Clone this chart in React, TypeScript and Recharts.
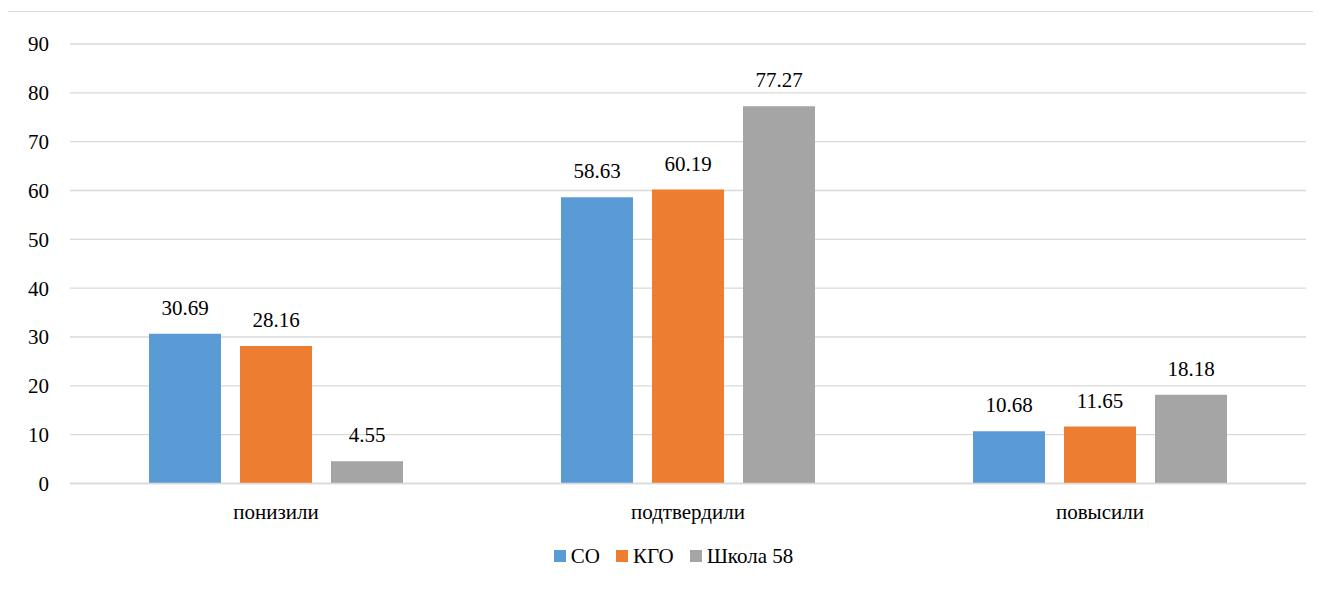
import React from "react";
import {
  BarChart,
  Bar,
  XAxis,
  YAxis,
  CartesianGrid,
  Legend,
  LabelList,
} from "recharts";

const categories = ["понизили", "подтвердили", "повысили"];
const soValues = [30.69, 58.63, 10.68];
const kgoValues = [28.16, 60.19, 11.65];
const schoolValues = [4.55, 77.27, 18.18];
const yTicks = [0, 10, 20, 30, 40, 50, 60, 70, 80, 90];

const series = [
  { key: "so", name: "СО", color: "#5B9BD5" },
  { key: "kgo", name: "КГО", color: "#ED7D31" },
  { key: "school", name: "Школа 58", color: "#A5A5A5" },
];

const chartData = categories.map((c, i) => ({
  category: c,
  so: soValues[i],
  kgo: kgoValues[i],
  school: schoolValues[i],
}));

const FONT = "'Times New Roman', Tinos, 'Liberation Serif', 'Noto Serif', 'DejaVu Serif', serif";
const FS = 21;

function renderLegend(props: any) {
  const payload = [...(props.payload || [])].sort(
    (a: any, b: any) =>
      series.findIndex((s) => s.name === a.value) - series.findIndex((s) => s.name === b.value)
  );
  return (
    <div style={{ textAlign: "center", fontFamily: FONT, fontSize: FS, color: "#000" }}>
      {payload.map((p: any, i: number) => (
        <span
          key={i}
          style={{ display: "inline-flex", alignItems: "center", marginRight: i < payload.length - 1 ? 16 : 0 }}
        >
          <span style={{ display: "inline-block", width: 12, height: 12, background: p.color, marginRight: 5 }} />
          {p.value}
        </span>
      ))}
    </div>
  );
}

export default function App() {
  return (
    <div style={{ position: "relative", width: 1313, height: 585, overflow: "hidden", fontFamily: FONT }}>
      <div
        style={{
          position: "absolute",
          left: -1,
          top: 3,
          width: 1400,
          height: 700,
          borderLeft: "1px solid #d9d9d9",
          borderTop: "1px solid #d9d9d9",
        }}
      />
      <div style={{ position: "absolute", left: 0, top: 0 }}>
        <BarChart
          width={1313}
          height={585}
          data={chartData}
          margin={{ top: 36, right: 15, left: 0, bottom: 54 }}
          barSize={72}
          barGap={19}
        >
          <CartesianGrid horizontal vertical={false} stroke="#d9d9d9" strokeWidth={1.3} />
          <XAxis
            dataKey="category"
            axisLine={{ stroke: "#d9d9d9", strokeWidth: 1.3 }}
            tickLine={false}
            tickMargin={15}
            tick={{ fill: "#000", fontSize: FS, fontFamily: FONT }}
          />
          <YAxis
            width={62}
            domain={[0, 90]}
            ticks={yTicks}
            interval={0}
            axisLine={false}
            tickLine={false}
            tickMargin={15}
            tick={{ fill: "#000", fontSize: FS, fontFamily: FONT }}
          />
          <Legend
            content={renderLegend}
            wrapperStyle={{ position: "absolute", top: 535, left: 0, width: 1331 }}
          />
          {series.map((s) => (
            <Bar key={s.key} dataKey={s.key} name={s.name} fill={s.color} isAnimationActive={false}>
              <LabelList
                dataKey={s.key}
                position="top"
                offset={19}
                formatter={(v: any) => Number(v).toFixed(2)}
                style={{ fill: "#000", fontSize: FS, fontFamily: FONT }}
              />
            </Bar>
          ))}
        </BarChart>
      </div>
    </div>
  );
}
